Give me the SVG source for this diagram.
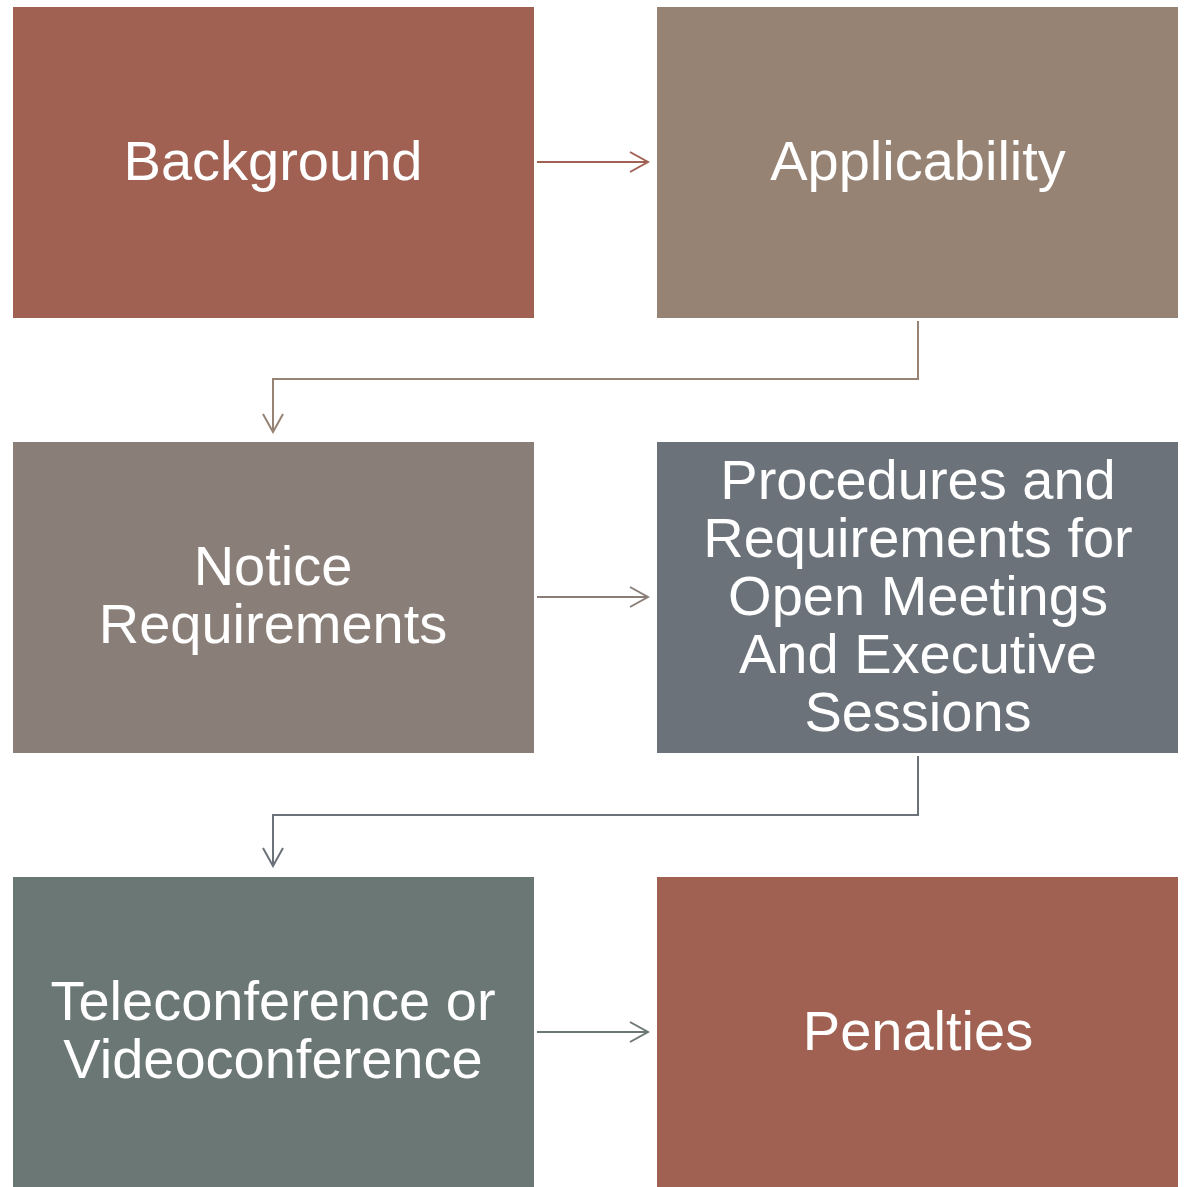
<svg xmlns="http://www.w3.org/2000/svg" width="1185" height="1187" viewBox="0 0 1185 1187">
<defs>
<style>
.t{font-family:"Liberation Sans",Arial,sans-serif;font-size:56px;fill:#ffffff;text-anchor:middle}
.c{fill:none;stroke-width:2}
</style>
<marker id="a1" viewBox="0 0 21 22" refX="19" refY="11" markerWidth="21" markerHeight="22" markerUnits="userSpaceOnUse" orient="auto"><path d="M1,1 L19,11 L1,21" fill="none" stroke="#A06153" stroke-width="2"/></marker>
<marker id="a2" viewBox="0 0 21 22" refX="19" refY="11" markerWidth="21" markerHeight="22" markerUnits="userSpaceOnUse" orient="auto"><path d="M1,1 L19,11 L1,21" fill="none" stroke="#968374" stroke-width="2"/></marker>
<marker id="a3" viewBox="0 0 21 22" refX="19" refY="11" markerWidth="21" markerHeight="22" markerUnits="userSpaceOnUse" orient="auto"><path d="M1,1 L19,11 L1,21" fill="none" stroke="#8A7F78" stroke-width="2"/></marker>
<marker id="a4" viewBox="0 0 21 22" refX="19" refY="11" markerWidth="21" markerHeight="22" markerUnits="userSpaceOnUse" orient="auto"><path d="M1,1 L19,11 L1,21" fill="none" stroke="#6C727A" stroke-width="2"/></marker>
<marker id="a5" viewBox="0 0 21 22" refX="19" refY="11" markerWidth="21" markerHeight="22" markerUnits="userSpaceOnUse" orient="auto"><path d="M1,1 L19,11 L1,21" fill="none" stroke="#6B7774" stroke-width="2"/></marker>
</defs>
<rect width="1185" height="1187" fill="#ffffff"/>
<g id="connectors">
<path class="c" d="M537,162 H648" stroke="#A06153" marker-end="url(#a1)"/>
<path class="c" d="M918,321 V379 H273 V432" stroke="#968374" marker-end="url(#a2)"/>
<path class="c" d="M537,597 H648" stroke="#8A7F78" marker-end="url(#a3)"/>
<path class="c" d="M918,756 V815 H273 V866" stroke="#6C727A" marker-end="url(#a4)"/>
<path class="c" d="M537,1032 H648" stroke="#6B7774" marker-end="url(#a5)"/>
</g>
<g id="background"><rect x="13" y="7" width="521" height="311" fill="#A06153"/><text class="t" x="273" y="180">Background</text></g>
<g id="applicability"><rect x="657" y="7" width="521" height="311" fill="#968374"/><text class="t" x="918" y="180">Applicability</text></g>
<g id="notice"><rect x="13" y="442" width="521" height="311" fill="#8A7F78"/><text class="t" x="273" y="585">Notice</text><text class="t" x="273" y="643">Requirements</text></g>
<g id="procedures"><rect x="657" y="442" width="521" height="311" fill="#6C727A"/><text class="t" x="918" y="499">Procedures and</text><text class="t" x="918" y="557">Requirements for</text><text class="t" x="918" y="615">Open Meetings</text><text class="t" x="918" y="673">And Executive</text><text class="t" x="918" y="731">Sessions</text></g>
<g id="teleconference"><rect x="13" y="877" width="521" height="310" fill="#6B7774"/><text class="t" x="273" y="1020">Teleconference or</text><text class="t" x="273" y="1078">Videoconference</text></g>
<g id="penalties"><rect x="657" y="877" width="521" height="310" fill="#A06153"/><text class="t" x="918" y="1050">Penalties</text></g>
</svg>
